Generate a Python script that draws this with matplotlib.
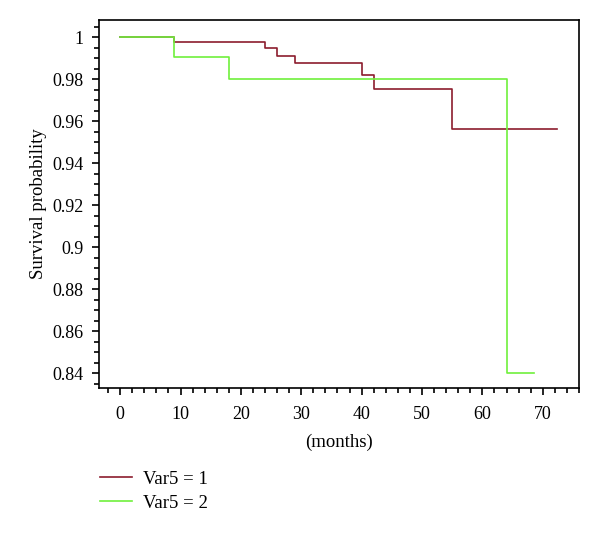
from matplotlib import pyplot as plt
from matplotlib.ticker import MultipleLocator
import numpy as np

plt.rcParams['font.family'] = ['Liberation Serif', 'DejaVu Serif']

# Kaplan-Meier step curves
t1 = [0, 9, 24, 26, 29, 40, 42, 55, 72.3]
s1 = [1.0, 0.9977, 0.9948, 0.9912, 0.9876, 0.9819, 0.9754, 0.9565, 0.9565]
t2 = [0, 9, 18, 64, 68.5]
s2 = [1.0, 0.9906, 0.9803, 0.84, 0.84]
labels = ["Var5 = 1", "Var5 = 2"]
colors = ["#8c1c2e", "#6ff03c"]

fig = plt.figure(figsize=(6, 5.47), dpi=100)
ax = fig.add_axes([0.165, 0.2907, 0.800, 0.6727])

ax.step(t1, s1, where="post", color=colors[0], lw=1.2, label=labels[0])
ax.step(t2, s2, where="post", color=colors[1], lw=1.2, label=labels[1])

ax.set_xlim(-3.5, 76)
ax.set_ylim(0.833, 1.0082)
ax.xaxis.set_minor_locator(MultipleLocator(2))
ax.yaxis.set_minor_locator(MultipleLocator(0.005))
ax.set_xticks(np.arange(0, 71, 10), labels=[str(v) for v in range(0, 71, 10)])
ax.set_yticks([0.84, 0.86, 0.88, 0.9, 0.92, 0.94, 0.96, 0.98, 1.0],
              labels=["0.84", "0.86", "0.88", "0.9", "0.92", "0.94", "0.96", "0.98", "1"])
ax.tick_params(which="major", direction="out", length=5, width=1.2, labelsize=13, pad=6)
ax.tick_params(axis="x", which="major", pad=8)
ax.tick_params(which="minor", direction="out", length=3.5, width=1.2)
for s in ax.spines.values():
    s.set_linewidth(1.2)

ax.set_xlabel("(months)", fontsize=13.5, labelpad=8)
ax.set_ylabel("Survival probability", fontsize=13.5, labelpad=4)

ax.legend(loc="upper left", bbox_to_anchor=(-0.013, -0.205), frameon=False,
          fontsize=13.5, handlelength=1.7, handletextpad=0.6, labelspacing=0.35,
          borderaxespad=0)

fig.savefig("out.png", dpi=100)
